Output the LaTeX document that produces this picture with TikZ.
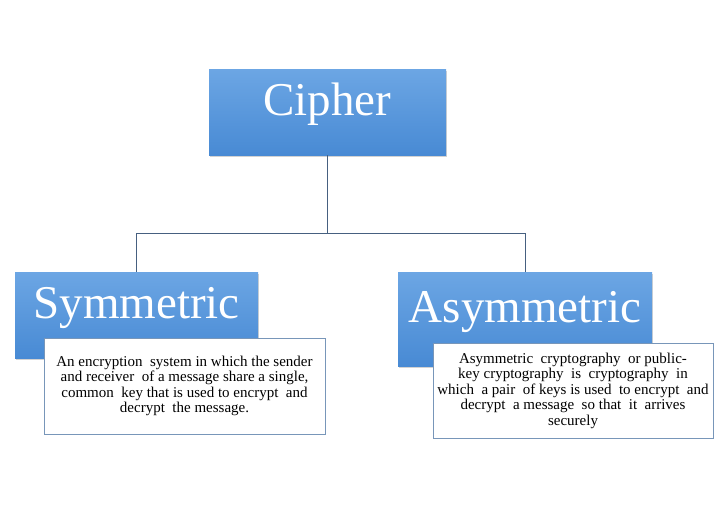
\documentclass[tikz,border=0pt]{standalone}
\usepackage{fontspec}
\setmainfont{Liberation Serif}
\usetikzlibrary{shadows}

\definecolor{boxtop}{RGB}{108,166,228}
\definecolor{boxbottom}{RGB}{72,138,212}
\definecolor{linkline}{RGB}{70,96,128}
\definecolor{noteline}{RGB}{120,150,185}

\tikzset{
  headbox/.style={rectangle, top color=boxtop, bottom color=boxbottom, draw=none,
    text=white, font=\fontsize{47}{50}\selectfont, text height=32pt, text depth=26pt,
    drop shadow={shadow xshift=1pt, shadow yshift=-2pt, opacity=0.25, fill=black!70}},
  notebox/.style={rectangle, fill=white, draw=noteline, line width=0.8pt,
    font=\fontsize{15}{15.5}\selectfont, align=center, inner sep=2pt},
  link/.style={draw=linkline, line width=0.8pt}
}

\begin{document}
\begin{tikzpicture}[x=1pt, y=-1pt]
\useasboundingbox (0,0) rectangle (722,507);
%top box
\node[headbox, minimum width=237pt, minimum height=86pt] (cipher) at (327.5,112) {Cipher};
%two branches
\node[headbox, minimum width=243pt, minimum height=86pt] (sym) at (136.5,315) {Symmetric};
\node[headbox, minimum width=254pt, minimum height=94pt] (asym) at (525,319) {Asymmetric};
%connectors
\coordinate (split) at (327.5,233);
\draw[link] (cipher.south) -- (split);
\draw[link] (split) -| (sym.north);
\draw[link] (split) -| (asym.north);
%descriptions
\node[notebox, minimum width=281pt, minimum height=96pt] (symtext) at (184.5,386)
  {An encryption \ system in which the sender\\
   and receiver \ of a message share a single,\\
   common \ key that is used to encrypt \ and\\
   decrypt \ the message.};
\node[notebox, minimum width=280pt, minimum height=95pt] (asymtext) at (573,390.5)
  {Asymmetric \ cryptography \ or public-\\
   key cryptography \ is \ cryptography \ in\\
   which \ a pair \ of keys is used \ to encrypt \ and\\
   decrypt \ a message \ so that \ it \ arrives\\
   securely};
\end{tikzpicture}
\end{document}
